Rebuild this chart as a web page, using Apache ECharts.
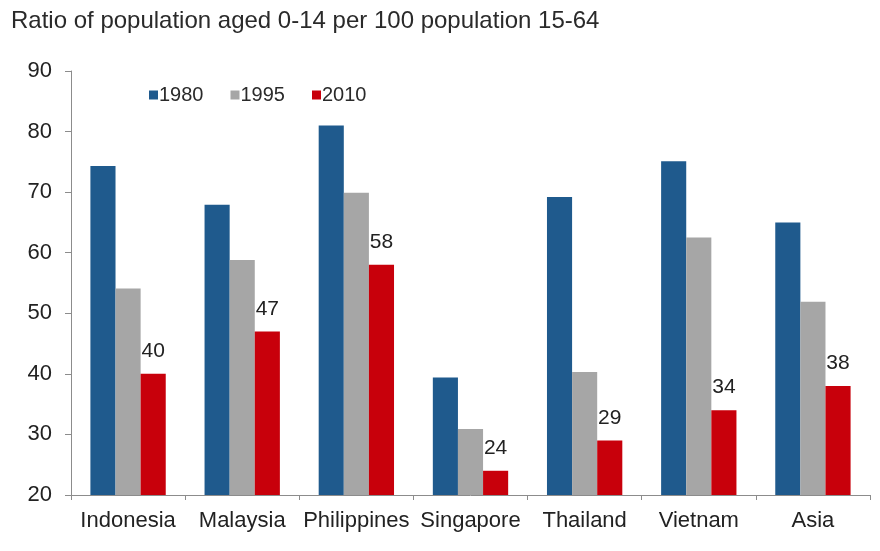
<!DOCTYPE html>
<html>
<head>
<meta charset="utf-8">
<script src="https://cdn.jsdelivr.net/npm/echarts@6/dist/echarts.min.js"></script>
<style>
  html, body { margin: 0; padding: 0; background: #ffffff; }
  #chart { width: 880px; height: 551px; }
</style>
</head>
<body>
<div id="chart"></div>
<script>
// Dependency ratio of the young: population aged 0-14 per 100 aged 15-64
const categories = ['Indonesia', 'Malaysia', 'Philippines', 'Singapore', 'Thailand', 'Vietnam', 'Asia'];
const seriesNames = ['1980', '1995', '2010'];
const values1980 = [74.3, 67.9, 81.0, 39.4, 69.2, 75.1, 65.0];
const values1995 = [54.1, 58.8, 69.9, 30.9, 40.3, 62.5, 51.9];
const values2010 = [40, 47, 58, 24, 29, 34, 38];
const yTicks = [20, 30, 40, 50, 60, 70, 80, 90];

const colors = ['#1F5A8D', '#A6A6A6', '#C8000B'];
const textColor = '#222222';
const axisColor = '#8C8C8C';
const fontFamily = '"Liberation Sans", Arial, sans-serif';

const chart = echarts.init(document.getElementById('chart'), null, { renderer: 'canvas' });

chart.setOption({
  backgroundColor: '#ffffff',
  animation: false,
  textStyle: { fontFamily: fontFamily, color: textColor },
  title: {
    text: 'Ratio of population aged 0-14 per 100 population 15-64',
    left: 6,
    top: 4,
    textStyle: { fontSize: 24, fontWeight: 'normal', color: '#2a2a2a', fontFamily: fontFamily }
  },
  legend: {
    data: seriesNames,
    left: 144,
    top: 80,
    itemWidth: 9,
    itemHeight: 9,
    itemGap: 27,
    icon: 'rect',
    textStyle: { fontSize: 20, color: '#2a2a2a', padding: [0, 0, 0, -4], fontFamily: fontFamily }
  },
  grid: { left: 71, right: 10, top: 71, bottom: 56, containLabel: false },
  xAxis: {
    type: 'category',
    data: categories,
    boundaryGap: true,
    axisLine: { show: true, lineStyle: { color: axisColor, width: 1 } },
    axisTick: { show: true, length: 5, lineStyle: { color: axisColor } },
    axisLabel: { interval: 0, hideOverlap: false, fontSize: 22, color: textColor, margin: 15, fontFamily: fontFamily }
  },
  yAxis: {
    type: 'value',
    min: yTicks[0],
    max: yTicks[yTicks.length - 1],
    interval: 10,
    splitLine: { show: false },
    axisLine: { show: true, lineStyle: { color: axisColor, width: 1 } },
    axisTick: { show: true, length: 6, lineStyle: { color: axisColor } },
    axisLabel: { fontSize: 22, color: textColor, margin: 19, fontFamily: fontFamily }
  },
  series: [
    {
      name: seriesNames[0],
      type: 'bar',
      data: values1980,
      itemStyle: { color: colors[0] },
      barGap: '0%',
      barCategoryGap: '34%'
    },
    {
      name: seriesNames[1],
      type: 'bar',
      data: values1995,
      itemStyle: { color: colors[1] },
      barGap: '0%',
      barCategoryGap: '34%'
    },
    {
      name: seriesNames[2],
      type: 'bar',
      data: values2010,
      itemStyle: { color: colors[2] },
      barGap: '0%',
      barCategoryGap: '34%',
      label: {
        show: true,
        position: 'top',
        distance: 12,
        fontSize: 21,
        color: textColor,
        fontFamily: fontFamily,
        formatter: function (p) { return Math.round(p.value); }
      }
    }
  ]
});
</script>
</body>
</html>
